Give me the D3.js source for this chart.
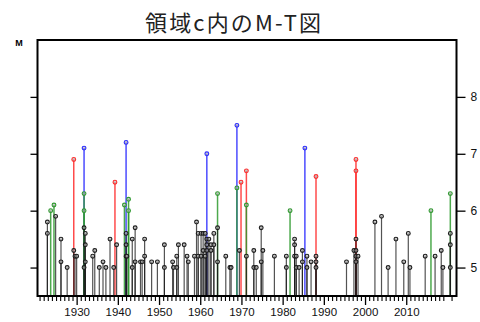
<!DOCTYPE html>
<html>
<head>
<meta charset="utf-8">
<script src="https://cdn.jsdelivr.net/npm/d3@7"></script>
<style>
  html, body { margin: 0; padding: 0; background: #fff; }
  svg { display: block; }
</style>
</head>
<body>
<div id="chart"></div>
<script>
// event time (decimal year) and magnitude
const eventYear = [
  1922.9, 1922.9, 1923.7, 1924.5, 1924.9, 1926.2, 1926.2, 1927.7,
  1929.3, 1929.3, 1929.6, 1930.0,
  1931.8, 1931.8, 1931.8, 1931.8, 1931.8, 1932.1, 1932.1, 1932.1,
  1933.9, 1934.4, 1935.5, 1936.4, 1937.1, 1938.1, 1939.0, 1939.3, 1939.7,
  1941.6, 1942.0, 1942.0, 1942.0, 1942.0, 1942.2, 1942.6, 1942.6,
  1943.5, 1943.5, 1944.2, 1944.2, 1945.5, 1945.9, 1946.5, 1946.5,
  1948.2, 1949.6, 1951.3, 1951.3, 1953.3, 1953.5, 1954.3, 1954.3, 1954.7,
  1956.1, 1956.8, 1957.1, 1958.6, 1959.1, 1959.5, 1959.5,
  1960.2, 1960.2, 1960.7, 1960.7, 1961.2, 1961.2,
  1961.6, 1961.6, 1961.6, 1961.6, 1962.1, 1962.6, 1962.6, 1963.3, 1963.3,
  1964.2, 1964.2, 1964.2, 1966.2, 1967.2, 1967.5, 1968.9, 1968.9,
  1969.5, 1969.9, 1971.2, 1971.2, 1971.2, 1973.0, 1973.0, 1973.6,
  1974.8, 1974.8, 1975.2, 1978.0, 1980.9, 1980.9, 1981.8,
  1982.9, 1982.9, 1982.9, 1983.3, 1983.3, 1984.0, 1984.8, 1984.8,
  1985.4, 1985.9, 1985.9, 1986.9, 1988.1, 1988.1, 1988.1, 1988.1,
  1995.5, 1997.3, 1997.8, 1997.8, 1997.8, 1997.8, 1997.8, 1997.8, 1998.3,
  2002.4, 2004.0, 2005.6, 2007.5, 2009.4, 2010.5, 2010.9,
  2014.6, 2016.0, 2017.0, 2018.5, 2018.9, 2020.7, 2020.7, 2020.7, 2020.7
];
const eventMag = [
  5.8, 5.6, 6.0, 6.1, 5.9, 5.5, 5.1, 5.0,
  6.9, 5.3, 5.2, 5.2,
  7.1, 6.3, 6.0, 5.7, 5.0, 5.6, 5.4, 5.1,
  5.2, 5.3, 5.0, 5.1, 5.0, 5.5, 5.0, 6.5, 5.4,
  6.1, 7.2, 5.6, 5.4, 5.2, 5.2, 6.2, 6.0,
  5.5, 5.0, 5.7, 5.1, 5.1, 5.1, 5.5, 5.2,
  5.1, 5.1, 5.4, 5.0, 5.1, 5.0, 5.2, 5.0, 5.4,
  5.4, 5.2, 5.1, 5.2, 5.8, 5.6, 5.2,
  5.6, 5.2, 5.6, 5.3, 5.6, 5.2,
  7.0, 5.5, 5.4, 5.3, 5.5, 5.4, 5.3, 5.6, 5.4,
  6.3, 5.7, 5.1, 5.2, 5.0, 5.0, 7.5, 6.4,
  5.3, 6.5, 6.7, 6.1, 5.2, 5.3, 5.0, 5.0,
  5.7, 5.1, 5.3, 5.2, 5.2, 5.0, 6.0,
  5.5, 5.4, 5.2, 5.2, 5.0, 5.0, 5.3, 5.1,
  7.1, 5.2, 5.0, 5.1, 6.6, 5.2, 5.1, 5.0,
  5.1, 5.3, 6.9, 6.7, 5.5, 5.3, 5.2, 5.1, 5.2,
  5.8, 5.9, 5.0, 5.5, 5.1, 5.6, 5.0,
  5.2, 6.0, 5.2, 5.3, 5.0, 6.3, 5.6, 5.4, 5.0
];
const magTicks = [5, 6, 7, 8];
const decadeTicks = [1930, 1940, 1950, 1960, 1970, 1980, 1990, 2000, 2010];
const titleText = "領域c内のM-T図";

const W = 480, H = 322;
const margin = { top: 40, right: 23.5, bottom: 26, left: 37.5 };
const iw = W - margin.left - margin.right;
const ih = H - margin.top - margin.bottom;

const svg = d3.select("#chart").append("svg")
  .attr("width", W).attr("height", H);

svg.append("text")
  .attr("x", 233).attr("y", 31)
  .attr("text-anchor", "middle")
  .attr("textLength", 176)
  .style("font-family", "'Noto Sans CJK JP', sans-serif")
  .style("font-size", "22px")
  .style("fill", "#222")
  .text(titleText);

svg.append("text")
  .attr("x", 19).attr("y", 46)
  .attr("text-anchor", "middle")
  .style("font-family", "'Liberation Sans', Arial, sans-serif")
  .style("font-size", "9px")
  .style("font-weight", "bold")
  .text("M");

const g = svg.append("g")
  .attr("transform", `translate(${margin.left},${margin.top})`);

const x = d3.scaleLinear().domain([1920.5, 2022.2]).range([0, iw]);
const y = d3.scaleLinear().domain([4.5, 9]).range([ih, 0]);

function magColor(m) {
  if (m >= 7) return "#2b2bff";
  if (m >= 6.5) return "#ff2b2b";
  if (m >= 6) return "#2e9a2e";
  return "#1a1a1a";
}

// biggest first so the smaller stems sit on top
const events = eventYear.map((t, i) => ({ t, m: eventMag[i] }))
  .sort((a, b) => b.m - a.m);

g.selectAll(".stem")
  .data(events)
  .enter().append("line")
  .attr("class", "stem")
  .attr("x1", d => x(d.t)).attr("x2", d => x(d.t))
  .attr("y1", y(4.5)).attr("y2", d => y(d.m))
  .style("stroke", d => magColor(d.m))
  .style("stroke-width", d => d.m >= 6 ? 1.5 : 1.2)
  .style("stroke-opacity", d => d.m >= 6 ? 0.85 : 0.75);

g.selectAll(".dot")
  .data(events)
  .enter().append("circle")
  .attr("class", "dot")
  .attr("cx", d => x(d.t)).attr("cy", d => y(d.m))
  .attr("r", 1.9)
  .style("fill", "#aaa")
  .style("fill-opacity", 0.6)
  .style("stroke", d => magColor(d.m))
  .style("stroke-width", 1.1);

// frame
g.append("rect")
  .attr("x", 0).attr("y", 0)
  .attr("width", iw).attr("height", ih)
  .style("fill", "none")
  .style("stroke", "#000")
  .style("stroke-width", 2);

// left: ticks only
g.append("g")
  .call(d3.axisLeft(y).tickValues(magTicks).tickSize(7).tickFormat(""))
  .call(a => a.select(".domain").remove())
  .selectAll("line").style("stroke-width", 1.3);

// right: ticks with labels
const right = g.append("g")
  .attr("transform", `translate(${iw},0)`)
  .call(d3.axisRight(y).tickValues(magTicks).tickSize(9).tickPadding(5).tickFormat(d3.format("d")));
right.select(".domain").remove();
right.selectAll("line").style("stroke-width", 1.3);
right.selectAll("text")
  .style("font-family", "'Liberation Sans', Arial, sans-serif")
  .style("font-size", "12px")
  .style("fill", "#111");

// bottom: yearly minor ticks and labelled decades
const minor = d3.range(1921, 2022).filter(v => v % 10 !== 0);
const bMinor = g.append("g")
  .attr("transform", `translate(0,${ih})`)
  .call(d3.axisBottom(x).tickValues(minor).tickSize(5).tickFormat(""));
bMinor.select(".domain").remove();
bMinor.selectAll("line").style("stroke-width", 1.1);

const bMajor = g.append("g")
  .attr("transform", `translate(0,${ih})`)
  .call(d3.axisBottom(x).tickValues(decadeTicks).tickSize(9).tickPadding(3).tickFormat(d3.format("d")));
bMajor.select(".domain").remove();
bMajor.selectAll("line").style("stroke-width", 1.3);
bMajor.selectAll("text")
  .style("font-family", "'Liberation Sans', Arial, sans-serif")
  .style("font-size", "11.5px")
  .style("fill", "#111");
</script>
</body>
</html>
